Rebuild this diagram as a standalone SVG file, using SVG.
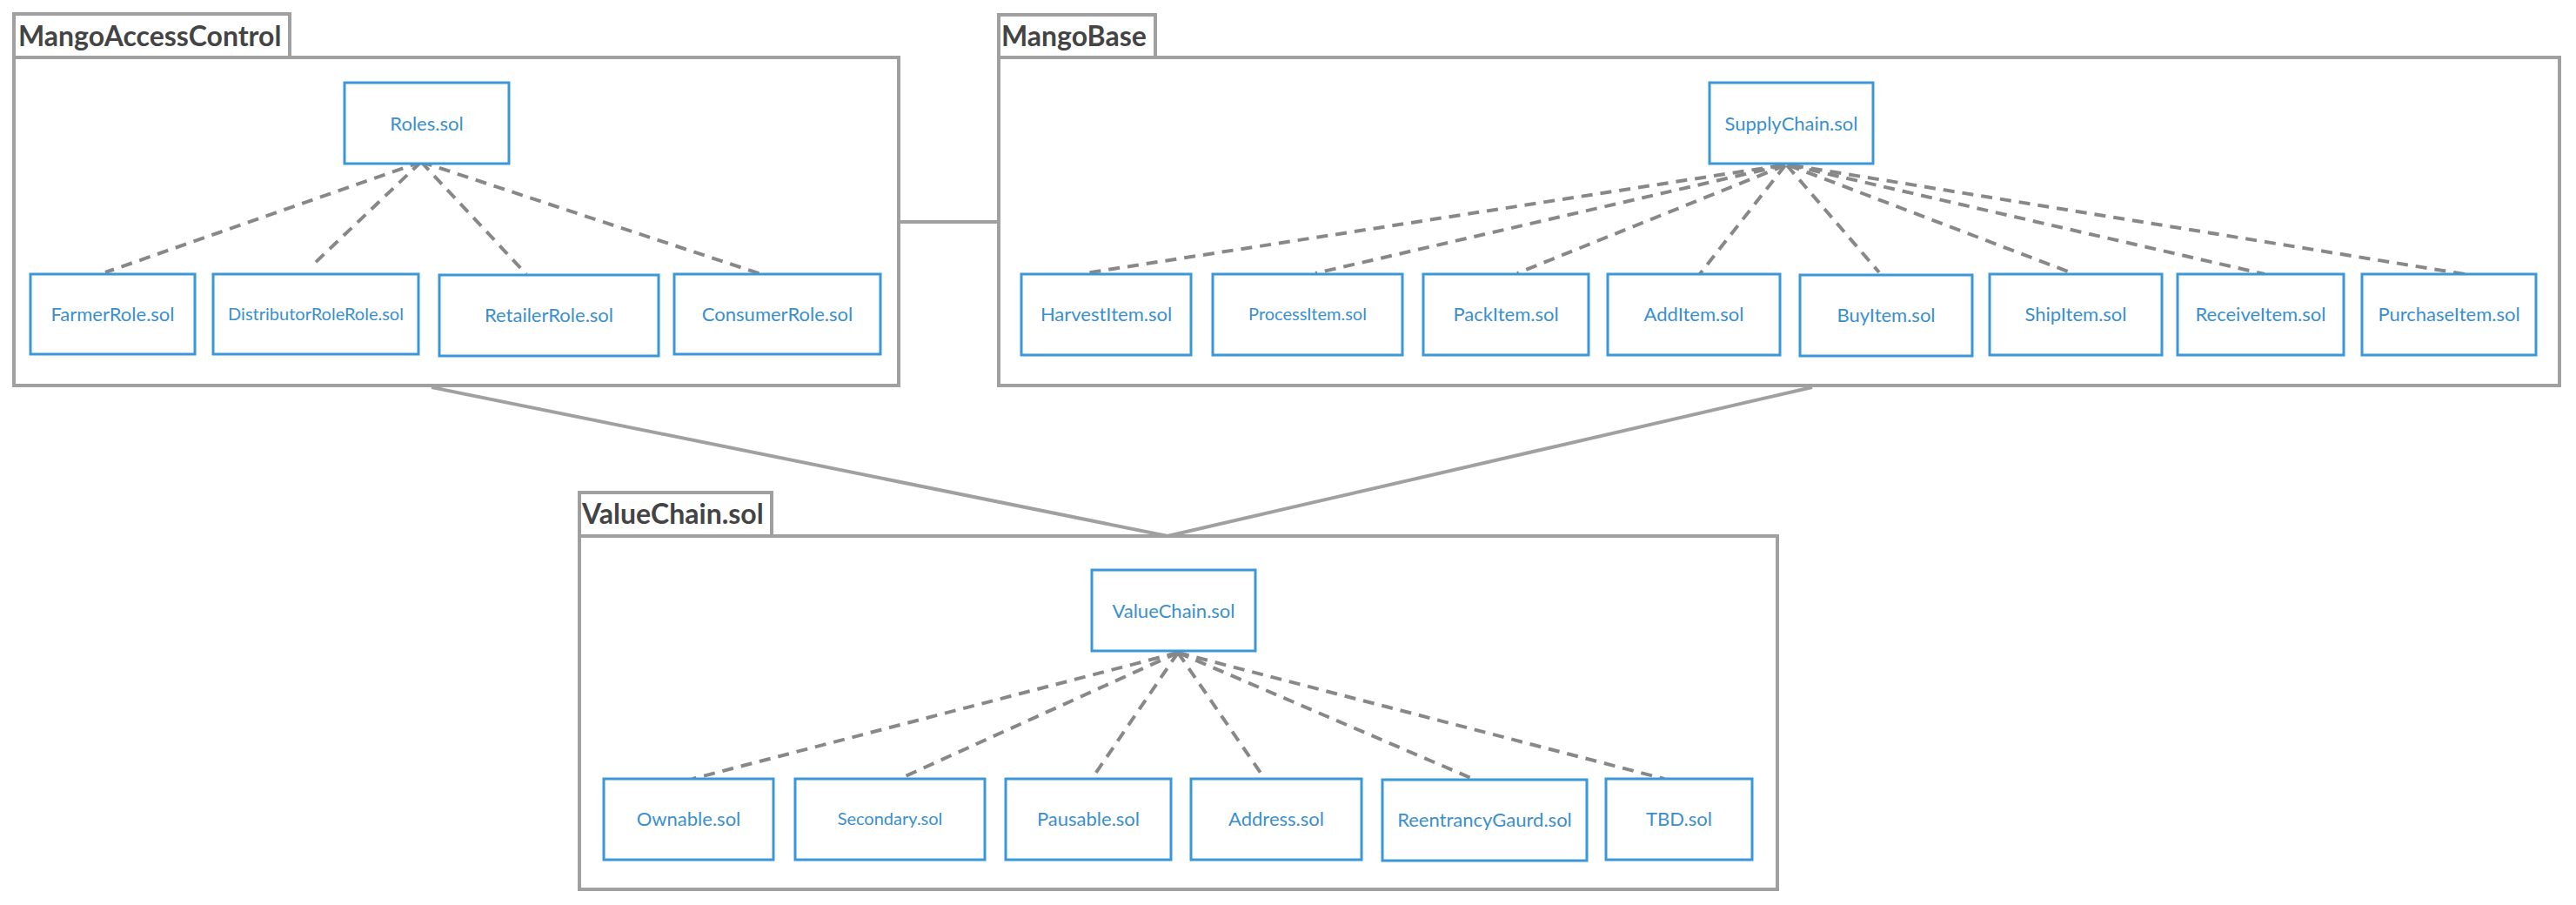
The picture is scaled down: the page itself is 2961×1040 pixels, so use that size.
<svg xmlns="http://www.w3.org/2000/svg" width="2961" height="1040" viewBox="0 0 2961 1040">
<style>
.cont{fill:#ffffff;stroke:#a0a0a0;stroke-width:4}
.title{font-family:Lato,"Liberation Sans",sans-serif;font-weight:bold;font-size:32px;fill:#444444}
.node rect{fill:#ffffff;stroke:#3a97d9;stroke-width:3}
.node text{font-family:Lato,"Liberation Sans",sans-serif;font-size:22px;fill:#3b8fcc;text-anchor:middle}
.node text.sm{font-size:20px}
.link{stroke:#a0a0a0;stroke-width:4;fill:none}
.dep{stroke:#888888;stroke-width:4;fill:none;stroke-dasharray:13 9}
</style>
<rect width="2961" height="1040" fill="#ffffff"/>

<g id="MangoAccessControl">
<rect class="cont" x="16" y="16" width="317" height="51"/>
<rect class="cont" x="16" y="66" width="1017" height="377"/>
<text class="title" x="21" y="53">MangoAccessControl</text>
</g>
<g id="MangoBase">
<rect class="cont" x="1148" y="17" width="180" height="50"/>
<rect class="cont" x="1148" y="66" width="1794" height="377"/>
<text class="title" x="1151" y="53">MangoBase</text>
</g>
<g id="ValueChainPkg">
<rect class="cont" x="666" y="566" width="221" height="51"/>
<rect class="cont" x="666" y="616" width="1377" height="406"/>
<text class="title" x="669" y="602">ValueChain.sol</text>
</g>

<g id="connectors">
<line class="link" x1="1033" y1="255" x2="1148" y2="255"/>
<line class="link" x1="496" y1="445" x2="1342" y2="616"/>
<line class="link" x1="2083" y1="445" x2="1342" y2="616"/>
<line class="dep" x1="484" y1="186" x2="121" y2="313"/>
<line class="dep" x1="484" y1="186" x2="360" y2="304"/>
<line class="dep" x1="484" y1="186" x2="605" y2="315"/>
<line class="dep" x1="484" y1="186" x2="875" y2="315"/>
<line class="dep" x1="2048" y1="190" x2="1247" y2="314"/>
<line class="dep" x1="2050" y1="190" x2="1512" y2="314"/>
<line class="dep" x1="2052" y1="190" x2="1744" y2="314"/>
<line class="dep" x1="2052" y1="190" x2="1953" y2="316"/>
<line class="dep" x1="2054" y1="190" x2="2160" y2="313"/>
<line class="dep" x1="2056" y1="190" x2="2385" y2="315"/>
<line class="dep" x1="2058" y1="190" x2="2603" y2="315"/>
<line class="dep" x1="2060" y1="190" x2="2833" y2="315"/>
<line class="dep" x1="1354" y1="750" x2="796" y2="895"/>
<line class="dep" x1="1354" y1="750" x2="1034" y2="895"/>
<line class="dep" x1="1354" y1="750" x2="1255" y2="895"/>
<line class="dep" x1="1354" y1="750" x2="1451" y2="891"/>
<line class="dep" x1="1354" y1="750" x2="1693" y2="895"/>
<line class="dep" x1="1354" y1="750" x2="1913" y2="895"/>
</g>

<g id="Roles" class="node"><rect x="396" y="95" width="189" height="93"/><text x="490.5" y="150">Roles.sol</text></g>
<g id="FarmerRole" class="node"><rect x="35" y="315" width="189" height="92"/><text x="129.5" y="369">FarmerRole.sol</text></g>
<g id="DistributorRoleRole" class="node"><rect x="245" y="315" width="236" height="92"/><text class="sm" x="363" y="368">DistributorRoleRole.sol</text></g>
<g id="RetailerRole" class="node"><rect x="505" y="316" width="252" height="93"/><text x="631" y="370">RetailerRole.sol</text></g>
<g id="ConsumerRole" class="node"><rect x="775" y="315" width="237" height="92"/><text x="893.5" y="369">ConsumerRole.sol</text></g>

<g id="SupplyChain" class="node"><rect x="1965" y="95" width="188" height="93"/><text x="2059" y="150">SupplyChain.sol</text></g>
<g id="HarvestItem" class="node"><rect x="1174" y="315" width="195" height="93"/><text x="1271.5" y="369">HarvestItem.sol</text></g>
<g id="ProcessItem" class="node"><rect x="1394" y="315" width="218" height="93"/><text class="sm" x="1503" y="368">ProcessItem.sol</text></g>
<g id="PackItem" class="node"><rect x="1636" y="315" width="190" height="93"/><text x="1731" y="369">PackItem.sol</text></g>
<g id="AddItem" class="node"><rect x="1848" y="315" width="198" height="93"/><text x="1947" y="369">AddItem.sol</text></g>
<g id="BuyItem" class="node"><rect x="2069" y="316" width="198" height="93"/><text x="2168" y="370">BuyItem.sol</text></g>
<g id="ShipItem" class="node"><rect x="2287" y="315" width="198" height="93"/><text x="2386" y="369">ShipItem.sol</text></g>
<g id="ReceiveItem" class="node"><rect x="2503" y="315" width="191" height="93"/><text x="2598.5" y="369">ReceiveItem.sol</text></g>
<g id="PurchaseItem" class="node"><rect x="2715" y="315" width="200" height="93"/><text x="2815" y="369">PurchaseItem.sol</text></g>

<g id="ValueChain" class="node"><rect x="1255" y="655" width="188" height="93"/><text x="1349" y="710">ValueChain.sol</text></g>
<g id="Ownable" class="node"><rect x="694" y="895" width="195" height="93"/><text x="791.5" y="949">Ownable.sol</text></g>
<g id="Secondary" class="node"><rect x="914" y="895" width="218" height="93"/><text class="sm" x="1023" y="948">Secondary.sol</text></g>
<g id="Pausable" class="node"><rect x="1156" y="895" width="190" height="93"/><text x="1251" y="949">Pausable.sol</text></g>
<g id="Address" class="node"><rect x="1369" y="895" width="196" height="93"/><text x="1467" y="949">Address.sol</text></g>
<g id="ReentrancyGaurd" class="node"><rect x="1589" y="896" width="235" height="93"/><text x="1706.5" y="950">ReentrancyGaurd.sol</text></g>
<g id="TBD" class="node"><rect x="1846" y="895" width="168" height="93"/><text x="1930" y="949">TBD.sol</text></g>
</svg>
